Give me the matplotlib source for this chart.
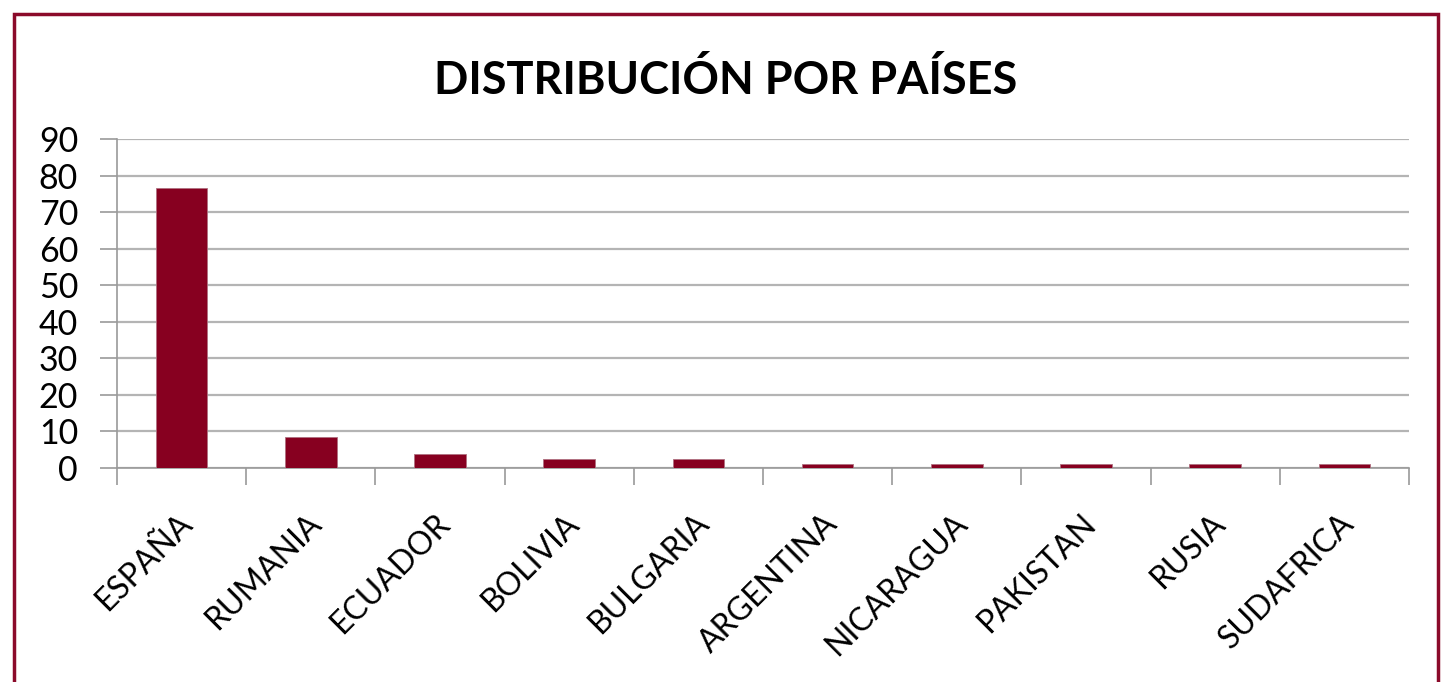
import matplotlib.pyplot as plt
import numpy as np
from matplotlib.patches import Rectangle

paises = ['ESPAÑA', 'RUMANIA', 'ECUADOR', 'BOLIVIA', 'BULGARIA',
          'ARGENTINA', 'NICARAGUA', 'PAKISTAN', 'RUSIA', 'SUDAFRICA']
valores = [76.5, 8.6, 3.7, 2.5, 2.5, 1.2, 1.2, 1.2, 1.2, 1.2]
yticks = [0, 10, 20, 30, 40, 50, 60, 70, 80, 90]

plt.rcParams['font.family'] = ['Lato', 'DejaVu Sans']

fig = plt.figure(figsize=(14.52, 6.82), dpi=100)
ax = fig.add_axes([117 / 1452, 1 - 468 / 682, 1292 / 1452, 329 / 682])

x = np.arange(len(paises))
ax.bar(x, valores, width=0.4, color='#870020', edgecolor='#b07080', linewidth=0.6, zorder=3)

ax.set_xlim(-0.5, len(paises) - 0.5)
ax.set_ylim(0, 90)
ax.set_yticks(yticks)
ax.set_yticklabels([str(v) for v in yticks], fontsize=24.5)
ax.yaxis.grid(True, color='#b4b4b4', linewidth=1.6, zorder=0)
ax.tick_params(axis='y', length=12, width=1.2, color='#9a9a9a', pad=16)

# categorias entre marcas
ax.set_xticks(np.arange(len(paises) + 1) - 0.5)
ax.set_xticklabels([])
ax.tick_params(axis='x', length=12, width=1.2, color='#9a9a9a')
for i, p in enumerate(paises):
    ax.text(i - 0.04, -11, p, rotation=45, ha='right', va='top',
            rotation_mode='anchor', fontsize=23)

for s in ['top', 'right']:
    ax.spines[s].set_visible(False)
ax.spines['left'].set_color('#9a9a9a')
ax.spines['bottom'].set_color('#9a9a9a')
ax.spines['left'].set_linewidth(1.2)
ax.spines['bottom'].set_linewidth(1.2)

fig.text(726 / 1452, 1 - 80 / 682, 'DISTRIBUCIÓN POR PAÍSES', ha='center', va='center',
         fontsize=32.5, fontweight='bold')

# marco del grafico
fig.patches.append(Rectangle((14 / 1452, -0.05), 1424 / 1452, 1.05 - 14 / 682,
                             transform=fig.transFigure, fill=False,
                             edgecolor='#8b0a2a', linewidth=2.5))

fig.savefig('out.png', dpi=100)
